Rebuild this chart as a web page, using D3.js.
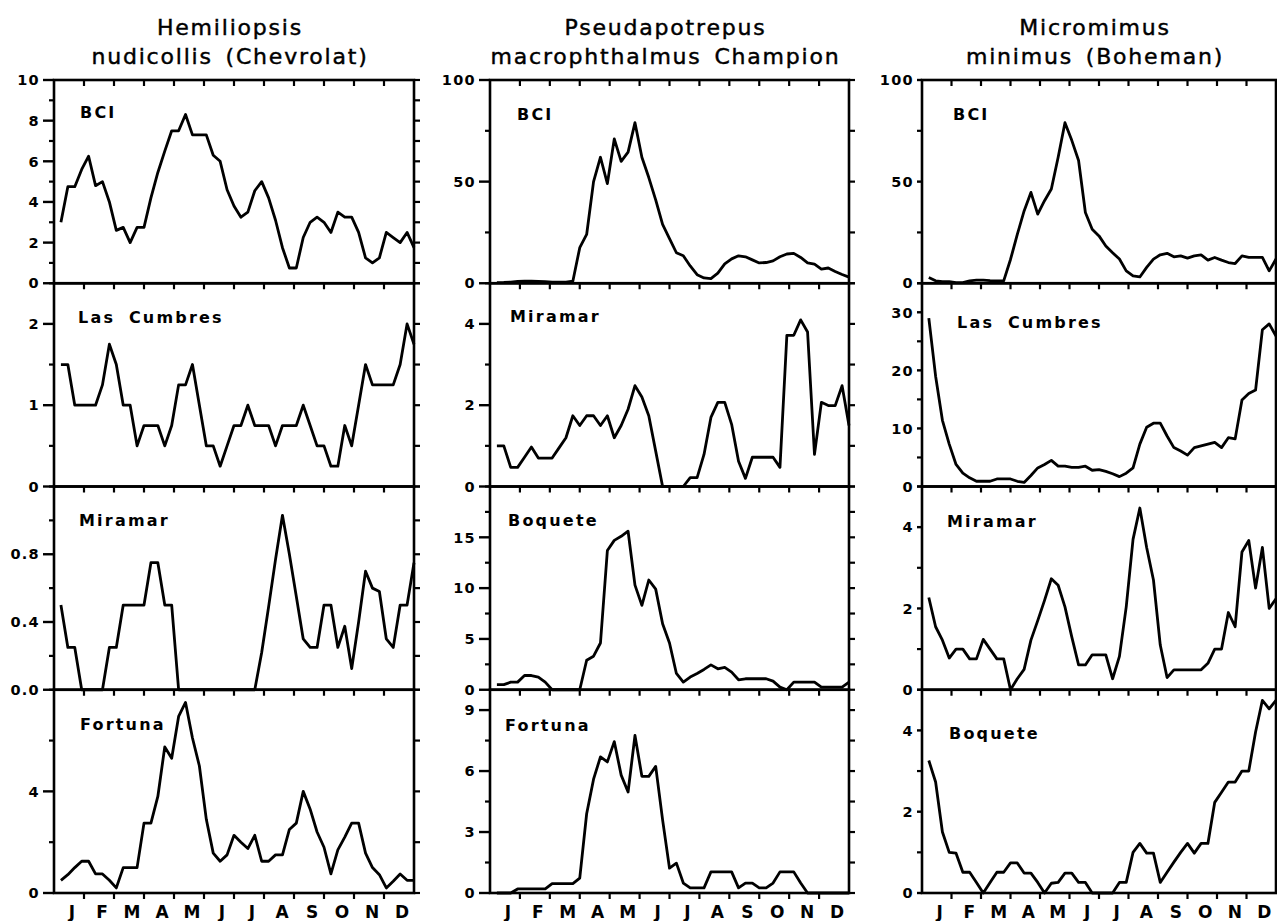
<!DOCTYPE html>
<html>
<head>
<meta charset="utf-8">
<script src="https://cdn.jsdelivr.net/npm/d3@7"></script>
<style>
  body { margin: 0; background: #fff; }
  svg { display: block; font-family: "DejaVu Sans", sans-serif; }
</style>
</head>
<body>
<svg id="chart" width="1277" height="921"></svg>
<script>
// ---- data (weekly values, 52 weeks) ----
const months = ['J', 'F', 'M', 'A', 'M', 'J', 'J', 'A', 'S', 'O', 'N', 'D'];

const titles = [
  ['Hemiliopsis', 'nudicollis (Chevrolat)'],
  ['Pseudapotrepus', 'macrophthalmus Champion'],
  ['Micromimus', 'minimus (Boheman)'],
];

const sites = [
  ['BCI', 'Las Cumbres', 'Miramar', 'Fortuna'],
  ['BCI', 'Miramar', 'Boquete', 'Fortuna'],
  ['BCI', 'Las Cumbres', 'Miramar', 'Boquete'],
];

const yMax = [
  [10, 2.5, 1.2, 8],
  [100, 5, 20, 10],
  [100, 35, 5, 5],
];

const yTicks = [
  [[0, 2, 4, 6, 8, 10], [0, 1, 2], [0, 0.4, 0.8], [0, 4]],
  [[0, 50, 100], [0, 2, 4], [0, 5, 10, 15], [0, 3, 6, 9]],
  [[0, 50, 100], [0, 10, 20, 30], [0, 2, 4], [0, 2, 4]],
];

const yMinorStep = [
  [1, 0.5, 0.2, 2],
  [25, 1, 2.5, 1.5],
  [25, 5, 1, 1],
];

const hemBCI = [3.0, 4.75, 4.75, 5.6, 6.25, 4.8, 5.0, 4.0, 2.6, 2.75, 2.0, 2.75, 2.75, 4.2, 5.45, 6.5,
  7.5, 7.5, 8.3, 7.3, 7.3, 7.3, 6.3, 6.0, 4.6, 3.8, 3.25, 3.5, 4.55, 5.0, 4.2, 3.1, 1.75, 0.75, 0.75,
  2.25, 3.0, 3.25, 3.0, 2.5, 3.5, 3.25, 3.25, 2.5, 1.25, 1.0, 1.25, 2.5, 2.25, 2.0, 2.5, 1.75];
const hemLasCumbres = [1.5, 1.5, 1.0, 1.0, 1.0, 1.0, 1.25, 1.75, 1.5, 1.0, 1.0, 0.5, 0.75, 0.75, 0.75,
  0.5, 0.75, 1.25, 1.25, 1.5, 1.0, 0.5, 0.5, 0.25, 0.5, 0.75, 0.75, 1.0, 0.75, 0.75, 0.75, 0.5, 0.75,
  0.75, 0.75, 1.0, 0.75, 0.5, 0.5, 0.25, 0.25, 0.75, 0.5, 1.0, 1.5, 1.25, 1.25, 1.25, 1.25, 1.5, 2.0, 1.75];
const hemMiramar = [0.5, 0.25, 0.25, 0, 0, 0, 0, 0.25, 0.25, 0.5, 0.5, 0.5, 0.5, 0.75, 0.75, 0.5, 0.5,
  0, 0, 0, 0, 0, 0, 0, 0, 0, 0, 0, 0, 0.22, 0.49, 0.77, 1.03, 0.8, 0.55, 0.3, 0.25, 0.25, 0.5, 0.5,
  0.25, 0.375, 0.125, 0.4, 0.7, 0.6, 0.58, 0.3, 0.25, 0.5, 0.5, 0.75];
const hemFortuna = [0.5, 0.72, 1.0, 1.25, 1.25, 0.75, 0.75, 0.5, 0.2, 1.0, 1.0, 1.0, 2.75, 2.75, 3.8,
  5.75, 5.3, 6.95, 7.5, 6.1, 5.0, 2.9, 1.57, 1.25, 1.5, 2.27, 2.0, 1.75, 2.27, 1.25, 1.25, 1.5, 1.5,
  2.5, 2.75, 4.0, 3.3, 2.4, 1.8, 0.75, 1.7, 2.2, 2.75, 2.75, 1.57, 1.0, 0.72, 0.2, 0.46, 0.75, 0.5, 0.5];

const pseBCI = [0.3, 0.4, 0.6, 0.9, 1.0, 1.0, 0.9, 0.8, 0.6, 0.5, 0.6, 1.0, 17.5, 24, 50, 62, 49, 71,
  60, 64.5, 79, 62, 52, 41, 29, 22, 15, 13.5, 8.5, 4.2, 2.6, 2.3, 5.0, 9.5, 12, 13.5, 13, 11.5, 10,
  10.2, 11, 13, 14.4, 14.7, 12.7, 10, 9.4, 7, 7.5, 5.8, 4.3, 3];
const pseMiramar = [1.0, 1.0, 0.47, 0.47, 0.72, 0.97, 0.7, 0.7, 0.7, 0.95, 1.2, 1.74, 1.5, 1.74, 1.74,
  1.5, 1.74, 1.2, 1.5, 1.9, 2.48, 2.2, 1.74, 0.87, 0, 0, 0, 0, 0.22, 0.22, 0.79, 1.7, 2.07, 2.07, 1.53,
  0.62, 0.2, 0.72, 0.72, 0.72, 0.72, 0.47, 3.72, 3.72, 4.1, 3.8, 0.79, 2.07, 1.99, 1.99, 2.48, 1.5];
const pseBoquete = [0.5, 0.5, 0.75, 0.75, 1.4, 1.4, 1.25, 0.75, 0, 0, 0, 0, 0, 2.9, 3.3, 4.6, 13.7,
  14.7, 15.1, 15.6, 10.3, 8.3, 10.8, 9.9, 6.5, 4.6, 1.6, 0.75, 1.25, 1.6, 2.0, 2.45, 2.06, 2.2, 1.73,
  0.98, 1.08, 1.08, 1.08, 1.08, 0.85, 0.26, 0, 0.75, 0.75, 0.75, 0.75, 0.26, 0.26, 0.26, 0.26, 0.75];
const pseFortuna = [0, 0, 0, 0.2, 0.2, 0.2, 0.2, 0.2, 0.46, 0.46, 0.46, 0.46, 0.73, 3.9, 5.6, 6.7, 6.45,
  7.45, 5.8, 4.97, 7.75, 5.74, 5.74, 6.23, 3.6, 1.22, 1.47, 0.49, 0.25, 0.25, 0.25, 1.04, 1.04, 1.04,
  1.04, 0.25, 0.49, 0.49, 0.25, 0.25, 0.49, 1.04, 1.04, 1.04, 0.49, 0, 0, 0, 0, 0, 0, 0];

const micBCI = [2.8, 1.2, 0.8, 0.8, 0.3, 0.3, 1.2, 1.5, 1.5, 1.3, 1.2, 1.2, 11.7, 24, 35.6, 44.7, 34,
  40.6, 46.4, 62, 79, 70.3, 60.4, 34.8, 26.6, 23.3, 18.3, 15, 11.9, 6.1, 3.6, 3.1, 7.8, 11.9, 14, 14.7,
  13, 13.5, 12.4, 13.5, 14, 11.4, 12.7, 11.4, 10.2, 9.7, 13.5, 12.7, 12.7, 12.7, 6.1, 11.9];
const micLasCumbres = [29, 19, 11.4, 7.3, 3.8, 2.3, 1.5, 0.9, 0.9, 0.9, 1.3, 1.3, 1.3, 0.9, 0.7, 1.9,
  3.2, 3.8, 4.5, 3.5, 3.5, 3.3, 3.3, 3.5, 2.8, 2.9, 2.6, 2.2, 1.7, 2.3, 3.2, 7.3, 10.2, 10.9, 10.9,
  8.7, 6.7, 6.1, 5.4, 6.7, 7.0, 7.3, 7.6, 6.7, 8.4, 8.2, 14.9, 16, 16.6, 27, 28, 25.9];
const micMiramar = [2.27, 1.55, 1.22, 0.78, 1.0, 1.0, 0.76, 0.76, 1.24, 1.0, 0.76, 0.76, 0, 0.27, 0.5,
  1.22, 1.7, 2.2, 2.73, 2.57, 2.04, 1.3, 0.61, 0.61, 0.86, 0.86, 0.86, 0.27, 0.82, 2.04, 3.7, 4.47, 3.5,
  2.7, 1.1, 0.3, 0.49, 0.49, 0.49, 0.49, 0.49, 0.65, 1.0, 1.0, 1.9, 1.55, 3.39, 3.67, 2.5, 3.5, 2.0, 2.24];
const micBoquete = [3.26, 2.73, 1.5, 1.0, 0.98, 0.51, 0.51, 0.26, 0, 0.26, 0.51, 0.51, 0.74, 0.74, 0.49,
  0.49, 0.26, 0, 0.24, 0.26, 0.49, 0.49, 0.26, 0.26, 0, 0, 0, 0, 0.26, 0.26, 1.0, 1.22, 0.98, 0.98,
  0.26, 0.51, 0.76, 1.0, 1.22, 0.98, 1.22, 1.22, 2.23, 2.48, 2.73, 2.73, 3.0, 3.0, 3.96, 4.74, 4.53, 4.74];

const series = [
  [hemBCI, hemLasCumbres, hemMiramar, hemFortuna],
  [pseBCI, pseMiramar, pseBoquete, pseFortuna],
  [micBCI, micLasCumbres, micMiramar, micBoquete],
];

// ---- layout ----
const cols = [[54, 414], [490, 849], [922, 1276]];
const top0 = 80, bottom = 893;
const majorLen = [11, 11, 5], minorLen = [5, 5, 5];
const labelOffset = [
  [[26, 38], [24, 40], [25, 39], [26, 40]],
  [[27, 40], [20, 39], [18, 39], [15, 41]],
  [[31, 40], [35, 45], [25, 40], [27, 49]],
];

const svg = d3.select('#chart');
const rowY = d3.scaleLinear().domain([0, 4]).range([top0, bottom]);

cols.forEach(([L, R], c) => {
  const x = d3.scaleLinear().domain([0, 52]).range([L, R]);
  const g = svg.append('g');

  // species title
  const cx = (L + R) / 2 - 4;
  titles[c].forEach((t, k) => {
    g.append('text')
      .attr('x', cx).attr('y', 35 + k * 29)
      .attr('text-anchor', 'middle')
      .attr('font-size', 22)
      .attr('letter-spacing', 1.8)
      .attr('word-spacing', 4)
      .attr('stroke', '#000').attr('stroke-width', 0.45)
      .text(t);
  });

  for (let r = 0; r < 4; r++) {
    const y0 = rowY(r), y1 = rowY(r + 1);
    const y = d3.scaleLinear().domain([0, yMax[c][r]]).range([y1, y0]);
    const p = g.append('g');

    // minor ticks (left outward, right outward)
    const step = yMinorStep[c][r];
    const minors = d3.range(0, yMax[c][r] + 1e-9, step)
      .map(v => +v.toFixed(4))
      .filter(v => !yTicks[c][r].some(t => Math.abs(t - v) < 1e-6));
    const allTicks = minors.concat(yTicks[c][r]);
    p.selectAll('line.minor').data(minors).join('line')
      .attr('x1', L - minorLen[c]).attr('x2', L)
      .attr('y1', d => y(d)).attr('y2', d => y(d))
      .attr('stroke', '#000').attr('stroke-width', 2.2);
    p.selectAll('line.major').data(yTicks[c][r]).join('line')
      .attr('x1', L - majorLen[c]).attr('x2', L)
      .attr('y1', d => y(d)).attr('y2', d => y(d))
      .attr('stroke', '#000').attr('stroke-width', 2.4);
    p.selectAll('line.right').data(allTicks).join('line')
      .attr('x1', R).attr('x2', R + 6)
      .attr('y1', d => y(d)).attr('y2', d => y(d))
      .attr('stroke', '#000').attr('stroke-width', 2.2);

    // y labels
    const fmt = yTicks[c][r].some(v => v % 1 !== 0) ? d3.format('.1f') : d3.format('d');
    p.selectAll('text.ylab').data(yTicks[c][r]).join('text')
      .attr('x', L - majorLen[c] - 3)
      .attr('y', d => y(d))
      .attr('dy', '0.36em')
      .attr('text-anchor', 'end')
      .attr('font-size', 14.5)
      .attr('font-weight', 'bold')
      .attr('letter-spacing', 1.3)
      .text(fmt);

    // month ticks along the top edge, pointing down
    p.selectAll('line.xt').data(d3.range(1, 12)).join('line')
      .attr('x1', d => x(d * 52 / 12)).attr('x2', d => x(d * 52 / 12))
      .attr('y1', y0).attr('y2', y0 + 6)
      .attr('stroke', '#000').attr('stroke-width', 2.2);

    // frame
    p.append('rect')
      .attr('x', L).attr('y', y0)
      .attr('width', R - L).attr('height', y1 - y0)
      .attr('fill', 'none').attr('stroke', '#000').attr('stroke-width', 2.6);

    // data line
    const line = d3.line().x((d, i) => x(i + 1)).y(d => y(d));
    p.append('path')
      .datum(series[c][r])
      .attr('d', line)
      .attr('fill', 'none')
      .attr('stroke', '#000')
      .attr('stroke-width', 2.8)
      .attr('stroke-linejoin', 'round');

    // site label
    p.append('text')
      .attr('x', L + labelOffset[c][r][0])
      .attr('y', y0 + labelOffset[c][r][1])
      .attr('font-size', 16)
      .attr('font-weight', 'bold')
      .attr('letter-spacing', 2.2)
      .attr('word-spacing', 6)
      .text(sites[c][r]);
  }

  // bottom month ticks and labels
  g.selectAll('line.bt').data(d3.range(1, 12)).join('line')
    .attr('x1', d => x(d * 52 / 12)).attr('x2', d => x(d * 52 / 12))
    .attr('y1', bottom).attr('y2', bottom + 6)
    .attr('stroke', '#000').attr('stroke-width', 2.2);
  g.selectAll('text.month').data(months).join('text')
    .attr('x', (d, i) => x((i + 0.5) * 52 / 12) + 3)
    .attr('y', 918)
    .attr('text-anchor', 'middle')
    .attr('font-size', 17)
    .attr('font-weight', 'bold')
    .text(d => d);
});
</script>
</body>
</html>
